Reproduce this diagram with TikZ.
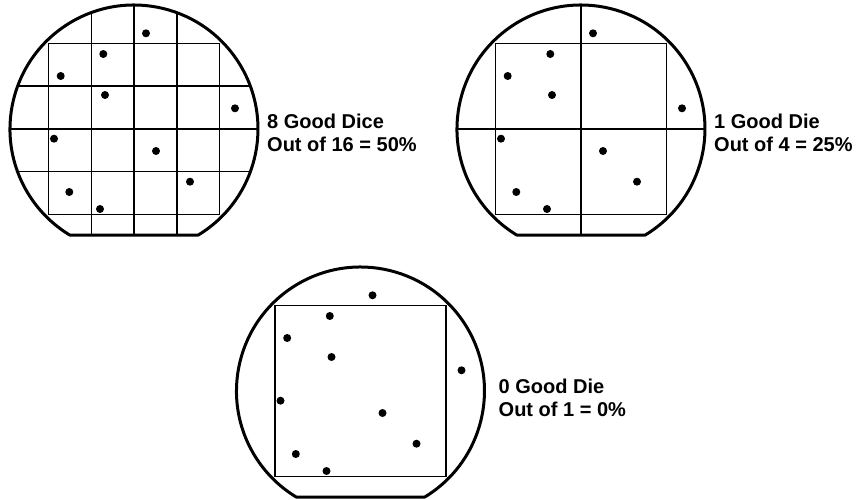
\documentclass[tikz,border=0pt]{standalone}
\usepackage{fontspec}
\setmainfont{Liberation Sans}
\tikzset{
  waferline/.style={line width=3pt, line join=round},
  gridline/.style={line width=1.5pt},
  diedot/.style={fill=black},
  yieldtext/.style={anchor=base west, align=left, inner sep=0pt,
    font=\bfseries\fontsize{20}{23.5}\selectfont}
}
\newcommand{\waferoutline}{(64.3,106) arc[start angle=58.75, end angle=-238.75, radius=124] -- cycle}
\newcommand{\waferdots}{%
  \foreach \p in {(12,-95.7),(-30.7,-75),(-73.3,-53),(-29,-34),(101,-20.7),
                  (-80,9.7),(22,22),(56,52.7),(-64.7,63),(-34,80)}
    {\fill[diedot] \p circle[radius=4];}%
}
\begin{document}
\begin{tikzpicture}[x=1pt,y=-1pt]
  \useasboundingbox (0,0) rectangle (860,500);
  % Wafer 1: 16 dice
  \begin{scope}[shift={(134,129)}]
    \begin{scope}
      \clip \waferoutline;
      \foreach \k in {-1,0,1}{
        \draw[gridline] (\k*42.75,-130) -- (\k*42.75,130);
        \draw[gridline] (-130,\k*42.75) -- (130,\k*42.75);
      }
    \end{scope}
    \draw[gridline] (-85.5,-85.5) rectangle (85.5,85.5);
    \draw[waferline] \waferoutline;
    \waferdots
  \end{scope}
  \node[yieldtext] (t1) at (267,151.7) {8 Good Dice\\Out of 16 = 50\%};
  % Wafer 2: 4 dice
  \begin{scope}[shift={(581,129)}]
    \begin{scope}
      \clip \waferoutline;
      \draw[gridline] (0,-130) -- (0,130);
      \draw[gridline] (-130,0) -- (130,0);
    \end{scope}
    \draw[gridline] (-85.5,-85.5) rectangle (85.5,85.5);
    \draw[waferline] \waferoutline;
    \waferdots
  \end{scope}
  \node[yieldtext] (t2) at (714,151.7) {1 Good Die\\Out of 4 = 25\%};
  % Wafer 3: 1 die
  \begin{scope}[shift={(360.5,391)}]
    \draw[gridline] (-85.5,-85.5) rectangle (85.5,85.5);
    \draw[waferline] \waferoutline;
    \waferdots
  \end{scope}
  \node[yieldtext] (t3) at (498.5,416.7) {0 Good Die\\Out of 1 = 0\%};
\end{tikzpicture}
\end{document}
